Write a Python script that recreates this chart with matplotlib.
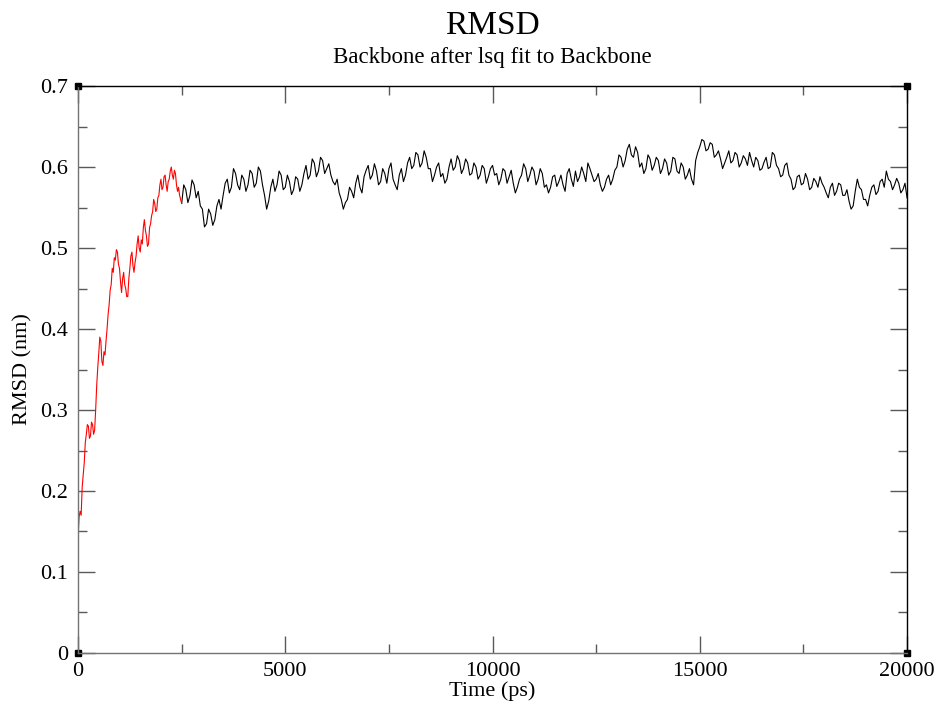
import numpy as np
import matplotlib
matplotlib.use("Agg")
import matplotlib.pyplot as plt
from matplotlib.ticker import MultipleLocator

# RMSD values (nm), red part: every 25 ps from 0 to 2500 ps
red_t0, red_dt = 0, 25
red_rmsd = [
    0.14, 0.168, 0.175, 0.17, 0.205, 0.22, 0.235, 0.26, 0.27, 0.282,
    0.28, 0.265, 0.268, 0.285, 0.282, 0.27, 0.275, 0.30, 0.33, 0.352,
    0.37, 0.39, 0.385, 0.36, 0.355, 0.372, 0.368, 0.385, 0.40, 0.418,
    0.43, 0.448, 0.455, 0.475, 0.47, 0.488, 0.485, 0.498, 0.495, 0.48,
    0.475, 0.458, 0.445, 0.462, 0.47, 0.455, 0.45, 0.44, 0.44, 0.462,
    0.475, 0.49, 0.495, 0.478, 0.47, 0.482, 0.49, 0.505, 0.515, 0.5,
    0.495, 0.51, 0.505, 0.525, 0.535, 0.522, 0.515, 0.502, 0.505, 0.525,
    0.53, 0.54, 0.545, 0.56, 0.555, 0.545, 0.548, 0.562, 0.565, 0.578,
    0.585, 0.572, 0.575, 0.588, 0.59, 0.578, 0.57, 0.582, 0.585, 0.595,
    0.60, 0.59, 0.585, 0.596, 0.592, 0.578, 0.57, 0.575, 0.565, 0.56,
    0.555,
]

# black part: every 50 ps from 2500 to 20000 ps
black_t0, black_dt = 2500, 50
black_rmsd = [
    0.555, 0.578, 0.572, 0.556, 0.565, 0.584, 0.578, 0.562, 0.57, 0.552,
    0.548, 0.526, 0.53, 0.548, 0.542, 0.528, 0.535, 0.552, 0.56, 0.548,
    0.565, 0.58, 0.585, 0.568, 0.575, 0.598, 0.592, 0.578, 0.572, 0.59,
    0.585, 0.57, 0.578, 0.596, 0.592, 0.575, 0.58, 0.6, 0.595, 0.578,
    0.565, 0.548, 0.558, 0.575, 0.585, 0.57, 0.578, 0.595, 0.59, 0.572,
    0.575, 0.59, 0.582, 0.566, 0.572, 0.588, 0.585, 0.57, 0.578, 0.592,
    0.602, 0.585, 0.59, 0.61, 0.605, 0.588, 0.595, 0.612, 0.608, 0.592,
    0.598, 0.604, 0.59, 0.582, 0.578, 0.585, 0.568, 0.56, 0.548, 0.556,
    0.56, 0.575, 0.57, 0.562, 0.58, 0.59, 0.575, 0.568, 0.588, 0.596,
    0.602, 0.585, 0.59, 0.604, 0.595, 0.578, 0.582, 0.598, 0.592, 0.58,
    0.598, 0.605, 0.585, 0.578, 0.572, 0.59, 0.598, 0.582, 0.59, 0.605,
    0.612, 0.598, 0.602, 0.618, 0.615, 0.6, 0.605, 0.62, 0.612, 0.598,
    0.598, 0.582, 0.59, 0.6, 0.605, 0.588, 0.592, 0.58, 0.585, 0.6,
    0.61, 0.596, 0.6, 0.614, 0.608, 0.592, 0.598, 0.61, 0.605, 0.59,
    0.592, 0.605, 0.6, 0.585, 0.59, 0.602, 0.598, 0.58, 0.588, 0.598,
    0.602, 0.59, 0.592, 0.578, 0.585, 0.598, 0.595, 0.58, 0.588, 0.596,
    0.58, 0.568, 0.575, 0.585, 0.59, 0.604, 0.598, 0.582, 0.59, 0.6,
    0.595, 0.578, 0.585, 0.598, 0.592, 0.575, 0.578, 0.568, 0.575, 0.588,
    0.59, 0.576, 0.582, 0.59, 0.578, 0.57, 0.592, 0.598, 0.585, 0.576,
    0.595, 0.582, 0.588, 0.6, 0.592, 0.582, 0.605, 0.598, 0.59, 0.582,
    0.585, 0.592, 0.578, 0.57, 0.575, 0.585, 0.59, 0.578, 0.585, 0.596,
    0.6, 0.615, 0.612, 0.6, 0.608, 0.622, 0.628, 0.615, 0.612, 0.625,
    0.618, 0.6, 0.605, 0.592, 0.598, 0.615, 0.61, 0.596, 0.602, 0.612,
    0.608, 0.592, 0.598, 0.61, 0.605, 0.59, 0.595, 0.612, 0.61, 0.595,
    0.592, 0.605, 0.6, 0.585, 0.59, 0.598, 0.585, 0.578, 0.608, 0.618,
    0.625, 0.634, 0.632, 0.62, 0.622, 0.63, 0.628, 0.612, 0.615, 0.62,
    0.61, 0.598, 0.605, 0.612, 0.62, 0.605, 0.608, 0.618, 0.615, 0.6,
    0.605, 0.614, 0.61, 0.602, 0.618, 0.608, 0.6, 0.612, 0.608, 0.596,
    0.598, 0.606, 0.612, 0.598, 0.6, 0.618, 0.615, 0.602, 0.598, 0.588,
    0.59, 0.602, 0.605, 0.59, 0.585, 0.572, 0.575, 0.588, 0.59, 0.578,
    0.58, 0.592, 0.585, 0.572, 0.575, 0.586, 0.582, 0.575, 0.588, 0.58,
    0.575, 0.568, 0.562, 0.575, 0.58, 0.565, 0.57, 0.58, 0.578, 0.565,
    0.565, 0.572, 0.558, 0.548, 0.552, 0.57, 0.585, 0.575, 0.572, 0.56,
    0.56, 0.552, 0.565, 0.575, 0.578, 0.566, 0.57, 0.582, 0.585, 0.575,
    0.595, 0.585, 0.582, 0.572, 0.578, 0.586, 0.58, 0.568, 0.572, 0.58,
    0.562,
]

red_t = red_t0 + red_dt * np.arange(len(red_rmsd))
black_t = black_t0 + black_dt * np.arange(len(black_rmsd))

plt.rcParams['font.family'] = ['Liberation Serif', 'DejaVu Serif']

fig = plt.figure(figsize=(9.38, 7.08), dpi=100)
ax = fig.add_axes([0.0832, 0.0777, 0.8838, 0.8008])

ax.plot(black_t, black_rmsd, color='black', lw=0.8)
ax.plot(red_t, red_rmsd, color='red', lw=0.8)

ax.set_xlim(0, 20000)
ax.set_ylim(0, 0.7)
ax.xaxis.set_major_locator(MultipleLocator(5000))
ax.xaxis.set_minor_locator(MultipleLocator(2500))
ax.yaxis.set_minor_locator(MultipleLocator(0.05))
ax.set_yticks(np.arange(0, 0.71, 0.1))
ax.set_yticklabels(['0', '0.1', '0.2', '0.3', '0.4', '0.5', '0.6', '0.7'])

ax.tick_params(which='both', direction='in', top=True, right=True,
               color='0.35', width=1.0, labelsize=16, labelcolor='black')
ax.tick_params(which='major', length=12.5)
ax.tick_params(which='minor', length=6.5)
ax.tick_params(axis='x', which='major', pad=6.5)
ax.tick_params(axis='y', which='major', pad=7)

for s in ['top', 'right']:
    ax.spines[s].set_color('black')
for s in ['left', 'bottom']:
    ax.spines[s].set_color('0.45')
for s in ax.spines.values():
    s.set_linewidth(1.0)

# little black squares on the frame corners (Grace style)
ax.plot([0, 0, 1, 1], [0, 1, 1, 0], 's', color='black', ms=5,
        transform=ax.transAxes, clip_on=False)

ax.set_xlabel('Time (ps)', fontsize=16, labelpad=0)
ax.set_ylabel('RMSD (nm)', fontsize=16, labelpad=6)

fig.text(0.5245, 0.963, 'RMSD', ha='center', va='center', fontsize=24)
fig.text(0.5245, 0.919, 'Backbone after lsq fit to Backbone', ha='center',
         va='center', fontsize=16.5)

fig.savefig('out.png', dpi=100)
